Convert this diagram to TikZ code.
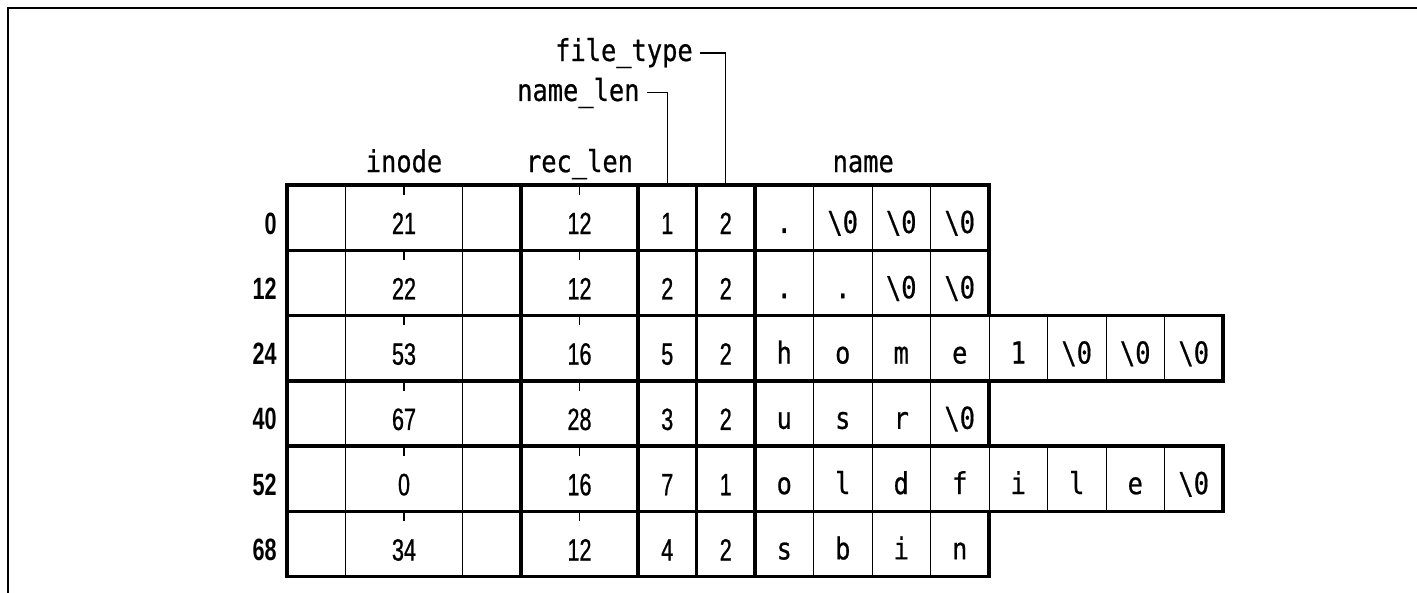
\documentclass[tikz,border=0pt]{standalone}
\usepackage{fontspec}
\newfontfamily\monofont[FakeStretch=0.84,FakeBold=0.6]{DejaVu Sans Mono}
\newfontfamily\numfont[FakeStretch=0.70,FakeBold=0.8]{Liberation Sans}
\newfontfamily\offfont[FakeStretch=0.70]{Liberation Sans}
\newcommand\zb{\textbackslash 0}
\newcommand\pdot{.}
\begin{document}
\begin{tikzpicture}[
		thickline/.style={line width=1.7pt},
		thinline/.style={line width=0.5pt},
		lbl/.style={font=\monofont\fontsize{14.7}{16}\selectfont},
		num/.style={font=\numfont\fontsize{15}{17}\selectfont, anchor=base},
		chr/.style={font=\monofont\fontsize{14.7}{16}\selectfont, anchor=base},
		offs/.style={font=\offfont\bfseries\fontsize{15}{17}\selectfont, anchor=base east, inner sep=0pt}
	]
		\useasboundingbox (-4.906,-6.974) rectangle (19.316,3.162);

		% frame
		\draw	[line width=1pt] (19.316,3.026) -- (-4.769,3.026) -- (-4.769,-6.974);

		% field labels
		\node	[lbl, anchor=base]	(inodelbl)	at (2,0.22)		{inode};
		\node	[lbl, anchor=base]	(reclbl)	at (5,0.22)		{rec\_len};
		\node	[lbl, anchor=base]	(namelbl)	at (9.85,0.22)	{name};
		\node	[lbl, anchor=east]	(nllbl)		at (6.15,1.573)	{name\_len};
		\node	[lbl, anchor=east]	(ftlbl)		at (7.06,2.256)	{file\_type};

		% leader lines
		\coordinate (nltop) at (6.5,0);
		\coordinate (fttop) at (7.5,0);
		\draw	[thinline] (nllbl.east) -| (nltop)
				(ftlbl.east) -| (fttop);

		% directory entries
		\foreach \off/\ino/\rec/\nl/\ft/\n [count=\i from 0] in
			{0/21/12/1/2/4, 12/22/12/2/2/4, 24/53/16/5/2/8,
			 40/67/28/3/2/4, 52/0/16/7/1/8, 68/34/12/4/2/4}{
			\pgfmathsetmacro\yt{-\i*1.116}
			\pgfmathsetmacro\yb{\yt-1.116}
			\pgfmathsetmacro\yl{\yt-0.84}
			\pgfmathtruncatemacro\xr{8+\n}
			\pgfmathtruncatemacro\xe{7+\n}
			% byte dividers
			\draw	[thinline] (1,\yt) -- (1,\yb) (3,\yt) -- (3,\yb)
					(2,\yt) -- ++(0,-0.17) (5,\yt) -- ++(0,-0.17);
			\foreach \x in {9,...,\xe}
				\draw [thinline] (\x,\yt) -- (\x,\yb);
			% field borders
			\draw	[thickline] (0,\yt) rectangle (\xr,\yb)
					(4,\yt) -- (4,\yb) (6,\yt) -- (6,\yb)
					(7,\yt) -- (7,\yb) (8,\yt) -- (8,\yb);
			% values
			\node	[offs]	(off\i)	at (-0.17,\yl)	{\off};
			\node	[num]	(ino\i)	at (2,\yl)		{\ino};
			\node	[num]	(rec\i)	at (5,\yl)		{\rec};
			\node	[num]	(nl\i)	at (6.5,\yl)	{\nl};
			\node	[num]	(ft\i)	at (7.5,\yl)	{\ft};
		}

		% name bytes
		\foreach \i/\chars in {0/{\pdot,\zb,\zb,\zb}, 1/{\pdot,\pdot,\zb,\zb},
				2/{h,o,m,e,1,\zb,\zb,\zb}, 3/{u,s,r,\zb},
				4/{o,l,d,f,i,l,e,\zb}, 5/{s,b,i,n}}
			\foreach \c [count=\j from 0] in \chars
				\node [chr] (nm\i-\j) at ({8.5+\j},{-\i*1.116-0.82}) {\c};
	\end{tikzpicture}
\end{document}
